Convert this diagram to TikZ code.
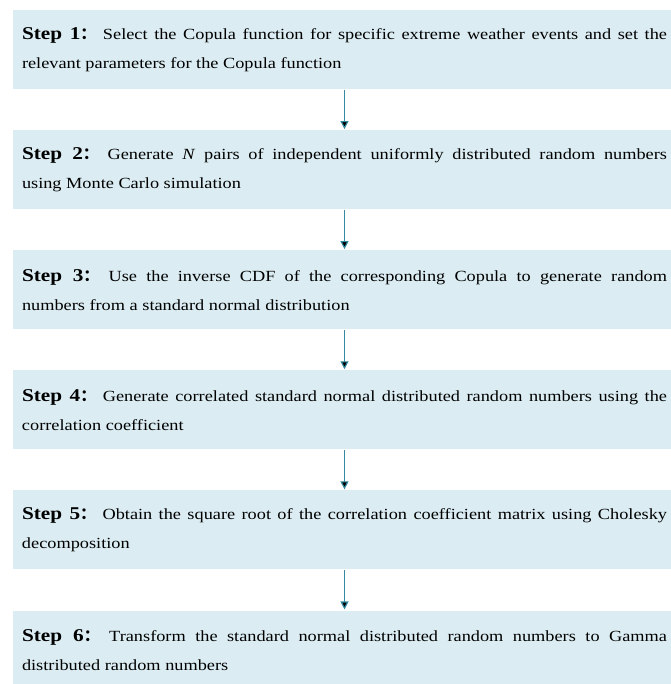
\documentclass[tikz,border=0pt]{standalone}
\usepackage{fontspec}
\setmainfont{Liberation Serif}[FakeStretch=1.18]
\newfontfamily\cjk{Noto Sans CJK SC}
\usepackage{tikz}
\usetikzlibrary{positioning,arrows.meta}
\definecolor{stepfill}{RGB}{219,237,243}
\definecolor{steparrow}{RGB}{52,138,160}
\newcommand{\steplabel}[1]{{\fontsize{18}{29}\selectfont\bfseries Step~#1}{\cjk\bfseries\fontsize{16}{29}\selectfont ：}}

\begin{document}
\begin{tikzpicture}[
    -{Triangle[width=8pt,length=8pt]},
    shorten >=0.5pt,
    line width=1.1pt,
    node distance=40pt,
    main node/.style={draw=none,fill=stepfill,minimum height=79pt,
      text width=645pt,inner xsep=9pt,inner ysep=0pt,align=justify,
      font=\fontsize{15.5}{29}\selectfont}
    ]
    \useasboundingbox (0,0) rectangle (670pt,-684pt);

    \node[main node] (1) at (344.5pt,-49.5pt) {\steplabel{1} Select the Copula function for specific extreme weather events and set the\linebreak relevant parameters for the Copula function};
    \node[main node] (2) [below=of 1] {\steplabel{2} Generate \emph{N} pairs of independent uniformly distributed random numbers\linebreak using Monte Carlo simulation};
    \node[main node] (3) [below=of 2] {\steplabel{3} Use the inverse CDF of the corresponding Copula to generate random\linebreak numbers from a standard normal distribution};
    \node[main node] (4) [below=of 3] {\steplabel{4} Generate correlated standard normal distributed random numbers using the\linebreak correlation coefficient};
    \node[main node] (5) [below=of 4] {\steplabel{5} Obtain the square root of the correlation coefficient matrix using Cholesky\linebreak decomposition};
    \node[main node] (6) [below=of 5] {\steplabel{6} Transform the standard normal distributed random numbers to Gamma\linebreak distributed random numbers};

    \path[draw=steparrow]
      (1) edge (2)
      (2) edge (3)
      (3) edge (4)
      (4) edge (5)
      (5) edge (6);
  \end{tikzpicture}
\end{document}
